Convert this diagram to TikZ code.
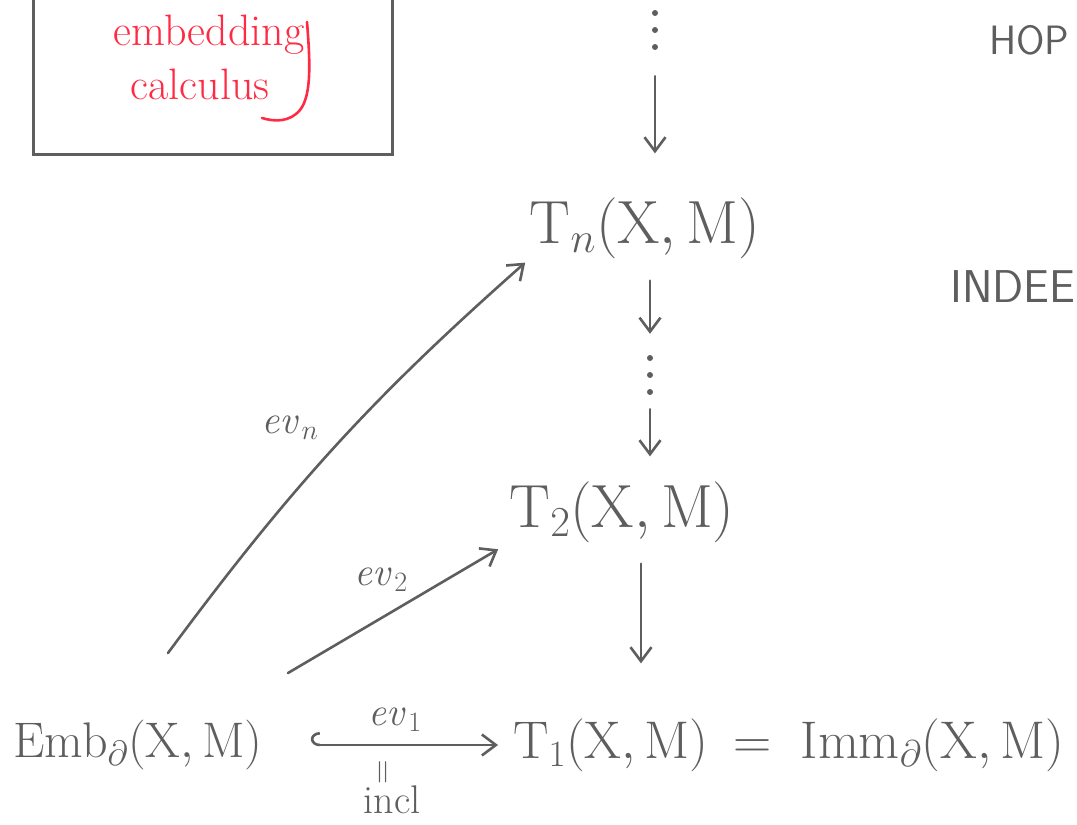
\RequirePackage{fix-cm}
\documentclass[tikz,border=0pt]{standalone}
\usetikzlibrary{arrows.meta,calc}
\definecolor{inkc}{HTML}{5E5E5E}
\definecolor{redc}{HTML}{FF2B44}
\newcommand{\XM}{(\mathrm{X},\mathrm{M})}
\begin{document}
\begin{tikzpicture}[x=1pt,y=-1pt,
  ink/.style={draw=inkc, line width=2.6pt, line cap=round},
  arr/.style={ink, -{Straight Barb[length=14pt,width=21pt]}},
  bigA/.style={inner sep=0pt, text=inkc, font=\fontsize{61}{64}\selectfont},
  bigB/.style={inner sep=0pt, text=inkc, font=\fontsize{53}{58}\selectfont},
  bigC/.style={inner sep=0pt, text=inkc, font=\fontsize{50}{56}\selectfont},
  lbl/.style={inner sep=0pt, text=inkc, font=\fontsize{40}{44}\selectfont},
  vdotsnode/.style={inner sep=0pt, minimum width=10pt, minimum height=42pt,
    path picture={\foreach \dy in {-17,0,17}
      {\fill[inkc] ($(path picture bounding box.center)+(0,\dy)$) circle (3pt);}}},
  redtext/.style={inner sep=0pt, text=redc, font=\fontsize{44}{48}\selectfont},
  note/.style={inner sep=0pt, text=inkc, anchor=west, font=\sffamily\fontsize{41}{46}\selectfont}]
\useasboundingbox (0,0) rectangle (1077,825);
\clip (0,0) rectangle (1077,825);
\fill[white] (0,0) rectangle (1077,825);

% box with red text
\draw[draw=inkc, line width=3pt] (33,-10) rectangle (392,154);
\node[redtext] (emb) at (209,35) {embedding};
\node[redtext] (calc) at (200,84) {calculus};
\draw[draw=redc, line width=2.6pt, line cap=round] (307,22) .. controls (310,60) and (312,95) .. (300,110) .. controls (290,122) and (275,122) .. (262,118);

% right margin notes
\node[note] (hop) at (989,40) {HOP};
\node[note, font=\sffamily\fontsize{46}{50}\selectfont] (indee) at (950,287) {INDEE};

% column
\node[vdotsnode] (dotsTop) at (655,30) {};
\node[bigA] (Tn) at (645,228) {$\mathrm{T}_n\XM$};
\node[vdotsnode] (dotsMid) at (650,375) {};
\node[bigA] (T2) at (622,512) {$\mathrm{T}_2\XM$};
\node[bigB] (T1) at (611,745) {$\mathrm{T}_1\XM$};
\node[bigB, anchor=base west] (Imm) at ([xshift=24pt]T1.base east) {$=\mkern5mu\mathrm{Imm}_\partial\XM$};
\node[bigC] (Emb) at (138,745) {$\mathrm{Emb}_\partial\XM$};

\draw[arr, shorten <=25pt, shorten >=44pt] (dotsTop.south) -- (dotsTop.south |- Tn.north);
\draw[arr, shorten <=22pt, shorten >=20pt] (dotsMid.north |- Tn.south) -- (dotsMid.north);
\draw[arr, shorten <=13pt, shorten >=25pt] (dotsMid.south) -- (dotsMid.south |- T2.north);
\draw[arr, shorten <=21pt, shorten >=55pt] ([xshift=19pt]T2.south) -- ([xshift=19pt]T2.south |- T1.north);

% hook arrow
\draw[ink, {Hooks[right,length=9pt,width=26pt]}-{Straight Barb[length=14pt,width=21pt]}, shorten <=48pt, shorten >=15pt] (Emb.east) -- (T1.west);
\node[lbl] (ev1) at (395,720) {$\mathit{ev}_1$};
\node[lbl, rotate=90, font=\fontsize{34}{36}\selectfont] (eqs) at (385,772) {$=$};
\node[lbl] (incl) at (392,800) {incl};

% evaluation maps
\coordinate (evnStart) at (168,653);
\coordinate (ev2Start) at (288,673);
\draw[arr, shorten >=6pt] (evnStart) to[bend left=6] (Tn.south west);
\draw[arr, shorten >=13pt] (ev2Start) -- (T2.south west);
\node[lbl] (evn) at (290,428) {$\mathit{ev}_n$};
\node[lbl] (ev2) at (381,580) {$\mathit{ev}_2$};
\end{tikzpicture}
\end{document}
